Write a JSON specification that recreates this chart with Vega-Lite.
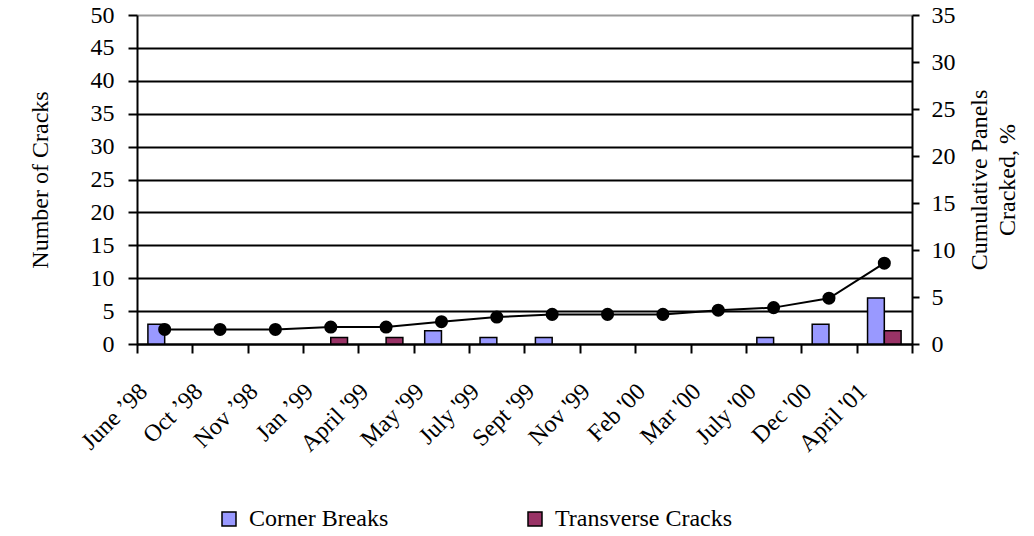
{
  "$schema": "https://vega.github.io/schema/vega-lite/v6.json",
  "width": 775,
  "height": 329,
  "autosize": {"type": "none"},
  "padding": {"left": 137, "top": 15, "right": 122, "bottom": 192},
  "background": "white",
  "config": {
    "view": {"stroke": null},
    "font": "Liberation Serif",
    "axis": {"labelFont": "Liberation Serif", "titleFont": "Liberation Serif", "labelFontSize": 24, "titleFontSize": 24, "titleFontWeight": "normal", "labelColor": "black", "titleColor": "black", "domainColor": "black", "tickColor": "black", "domainWidth": 2, "tickWidth": 2},
    "legend": {"labelFont": "Liberation Serif", "labelFontSize": 24, "labelColor": "black", "labelLimit": 400}
  },
  "datasets": {
    "bars": [
      {"month": "June ’98", "type": "Corner Breaks", "count": 3},
      {"month": "Jan ’99", "type": "Transverse Cracks", "count": 1},
      {"month": "April '99", "type": "Transverse Cracks", "count": 1},
      {"month": "May '99", "type": "Corner Breaks", "count": 2},
      {"month": "July '99", "type": "Corner Breaks", "count": 1},
      {"month": "Sept '99", "type": "Corner Breaks", "count": 1},
      {"month": "July '00", "type": "Corner Breaks", "count": 1},
      {"month": "Dec '00", "type": "Corner Breaks", "count": 3},
      {"month": "April '01", "type": "Corner Breaks", "count": 7},
      {"month": "April '01", "type": "Transverse Cracks", "count": 2}
    ],
    "line": [
      {"month": "June ’98", "pct": 1.55},
      {"month": "Oct ’98", "pct": 1.55},
      {"month": "Nov ’98", "pct": 1.55},
      {"month": "Jan ’99", "pct": 1.8},
      {"month": "April '99", "pct": 1.8},
      {"month": "May '99", "pct": 2.37},
      {"month": "July '99", "pct": 2.87},
      {"month": "Sept '99", "pct": 3.15},
      {"month": "Nov '99", "pct": 3.15},
      {"month": "Feb '00", "pct": 3.15},
      {"month": "Mar '00", "pct": 3.6},
      {"month": "July '00", "pct": 3.87},
      {"month": "Dec '00", "pct": 4.87},
      {"month": "April '01", "pct": 8.6}
    ]
  },
  "encoding": {
    "x": {
      "field": "month", "type": "nominal",
      "scale": {"domain": ["June ’98", "Oct ’98", "Nov ’98", "Jan ’99", "April '99", "May '99", "July '99", "Sept '99", "Nov '99", "Feb '00", "Mar '00", "July '00", "Dec '00", "April '01"], "paddingInner": 0, "paddingOuter": 0},
      "axis": {"title": null, "labelAngle": -45, "tickBand": "extent", "tickSize": 9, "labelPadding": 26, "labelOffset": -30}
    }
  },
  "layer": [
    {
      "data": {"name": "bars"},
      "mark": {"type": "bar", "stroke": "black", "strokeWidth": 1.5},
      "encoding": {
        "xOffset": {"field": "type", "type": "nominal", "scale": {"domain": ["Corner Breaks", "Transverse Cracks"], "paddingInner": 0, "paddingOuter": 0.65}},
        "y": {
          "field": "count", "type": "quantitative",
          "scale": {"domain": [0, 50], "nice": false},
          "axis": {"title": "Number of Cracks", "values": [0, 5, 10, 15, 20, 25, 30, 35, 40, 45, 50], "grid": true, "gridColor": {"condition": {"test": "datum.value == 50", "value": "#999999"}, "value": "black"}, "gridWidth": 1.8, "tickSize": 9, "labelPadding": 14, "titlePadding": 38}
        },
        "color": {
          "field": "type", "type": "nominal",
          "scale": {"domain": ["Corner Breaks", "Transverse Cracks"], "range": ["#9999FF", "#993366"]},
          "legend": {"title": null, "orient": "none", "direction": "horizontal", "legendX": 80, "legendY": 492, "symbolType": "square", "symbolSize": 196, "symbolStrokeColor": "black", "symbolStrokeWidth": 1.5, "columnPadding": 134, "labelOffset": 8}
        }
      }
    },
    {
      "data": {"name": "line"},
      "mark": {"type": "line", "color": "black", "strokeWidth": 2, "point": {"filled": true, "color": "black", "size": 170, "opacity": 1}},
      "encoding": {
        "y": {
          "field": "pct", "type": "quantitative",
          "scale": {"domain": [0, 35], "nice": false},
          "axis": {"orient": "right", "title": ["Cumulative Panels", "Cracked, %"], "titleAngle": -90, "titleLineHeight": 28, "values": [0, 5, 10, 15, 20, 25, 30, 35], "grid": false, "tickSize": 7, "labelPadding": 12, "titlePadding": 8}
        }
      }
    }
  ],
  "resolve": {"scale": {"y": "independent"}}
}
